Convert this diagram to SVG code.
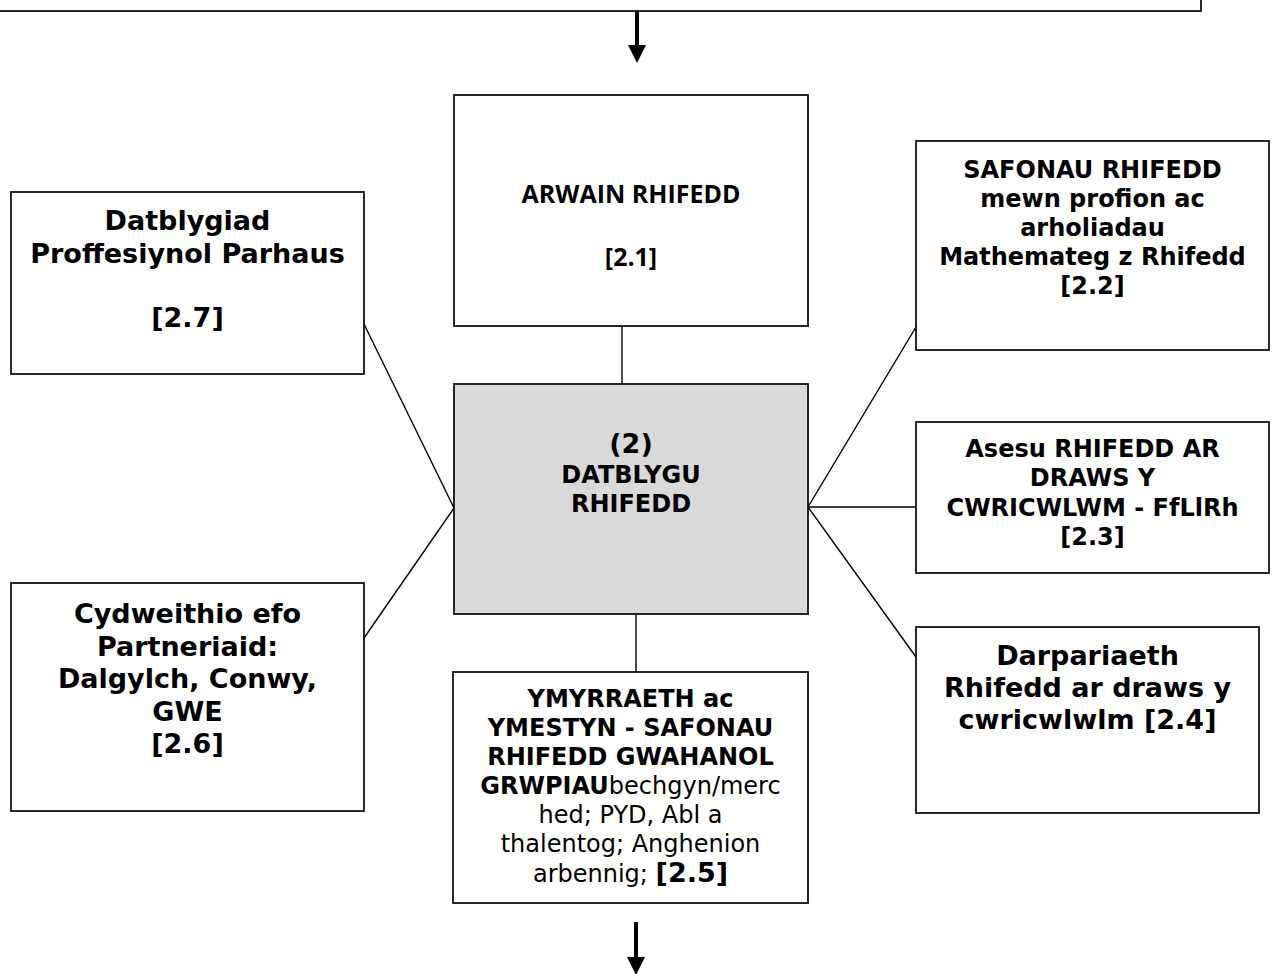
<svg xmlns="http://www.w3.org/2000/svg" width="1275" height="974" viewBox="0 0 1275 974">
<style>
  .box { fill: #ffffff; stroke: #111111; stroke-width: 1.8; }
  .core { fill: #d9d9d9; stroke: #111111; stroke-width: 1.8; }
  .con { stroke: #000000; stroke-width: 1.4; fill: none; }
  .flow { stroke: #000000; stroke-width: 4; fill: none; }
  .tip { fill: #000000; }
  text { font-family: "DejaVu Sans", Verdana, sans-serif; fill: #000000; text-anchor: middle; }
  .big { font-size: 27px; font-weight: bold; }
  .sm { font-size: 24px; font-weight: bold; }
  .reg { font-size: 24px; font-weight: normal; }
  .cal { font-family: "Open Sans", "Noto Sans", sans-serif; font-size: 25px; font-weight: bold; }
</style>

<!-- top (cut-off) box -->
<g id="top-box">
  <rect x="-10" y="-40" width="1211" height="51" class="box" stroke-width="2.4"/>
</g>

<g id="connectors">
  <line class="flow" x1="637" y1="11" x2="637" y2="46"/>
  <path class="tip" d="M 628 45 L 646 45 L 637 63 Z"/>
  <line class="flow" x1="636" y1="922" x2="636" y2="958"/>
  <path class="tip" d="M 627 957 L 645 957 L 636 975 Z"/>
  <line class="con" x1="622" y1="326" x2="622" y2="384"/>
  <line class="con" x1="636" y1="614" x2="636" y2="672"/>
  <line class="con" x1="364" y1="324" x2="454" y2="508"/>
  <line class="con" x1="364" y1="638" x2="454" y2="508"/>
  <line class="con" x1="916" y1="327" x2="808" y2="507"/>
  <line class="con" x1="808" y1="507" x2="916" y2="507"/>
  <line class="con" x1="808" y1="507" x2="916" y2="657"/>
</g>

<g id="node-2-1">
  <rect x="454" y="95" width="354" height="231" class="box"/>
  <text class="cal" x="631" y="203">ARWAIN RHIFEDD</text>
  <text class="cal" x="631" y="266">[2.1]</text>
</g>

<g id="node-2">
  <rect x="454" y="384" width="354" height="230" class="core"/>
  <text class="big" x="631" y="453">(2)</text>
  <text class="sm" x="631" y="483">DATBLYGU</text>
  <text class="sm" x="631" y="512">RHIFEDD</text>
</g>

<g id="node-2-7">
  <rect x="11" y="192" width="353" height="182" class="box"/>
  <text class="big" x="187.5" y="230">Datblygiad</text>
  <text class="big" x="187.5" y="262.5">Proffesiynol Parhaus</text>
  <text class="big" x="187.5" y="327">[2.7]</text>
</g>

<g id="node-2-6">
  <rect x="11" y="583" width="353" height="228" class="box"/>
  <text class="big" x="187.5" y="623">Cydweithio efo</text>
  <text class="big" x="187.5" y="655.5">Partneriaid:</text>
  <text class="big" x="187.5" y="688">Dalgylch, Conwy,</text>
  <text class="big" x="187.5" y="720.5">GWE</text>
  <text class="big" x="187.5" y="753">[2.6]</text>
</g>

<g id="node-2-2">
  <rect x="916" y="141" width="353" height="209" class="box"/>
  <text class="sm" x="1092.5" y="178">SAFONAU RHIFEDD</text>
  <text class="sm" x="1092.5" y="207">mewn profion ac</text>
  <text class="sm" x="1092.5" y="236">arholiadau</text>
  <text class="sm" x="1092.5" y="265">Mathemateg z Rhifedd</text>
  <text class="sm" x="1092.5" y="294">[2.2]</text>
</g>

<g id="node-2-3">
  <rect x="916" y="422" width="353" height="151" class="box"/>
  <text class="sm" x="1092.5" y="457">Asesu RHIFEDD AR</text>
  <text class="sm" x="1092.5" y="486">DRAWS Y</text>
  <text class="sm" x="1092.5" y="515.5">CWRICWLWM - FfLlRh</text>
  <text class="sm" x="1092.5" y="545">[2.3]</text>
</g>

<g id="node-2-4">
  <rect x="916" y="627" width="343" height="186" class="box"/>
  <text class="big" x="1087.5" y="665">Darpariaeth</text>
  <text class="big" x="1087.5" y="697">Rhifedd ar draws y</text>
  <text class="big" x="1087.5" y="729">cwricwlwlm [2.4]</text>
</g>

<g id="node-2-5">
  <rect x="453" y="672" width="355" height="231" class="box"/>
  <text class="sm" x="630.5" y="707">YMYRRAETH ac</text>
  <text class="sm" x="630.5" y="736">YMESTYN - SAFONAU</text>
  <text class="sm" x="630.5" y="765">RHIFEDD GWAHANOL</text>
  <text class="sm" x="630.5" y="794">GRWPIAU<tspan class="reg">bechgyn/merc</tspan></text>
  <text class="reg" x="630.5" y="823">hed; PYD, Abl a</text>
  <text class="reg" x="630.5" y="852">thalentog; Anghenion</text>
  <text class="reg" x="630.5" y="882">arbennig; <tspan class="big">[2.5]</tspan></text>
</g>
</svg>
